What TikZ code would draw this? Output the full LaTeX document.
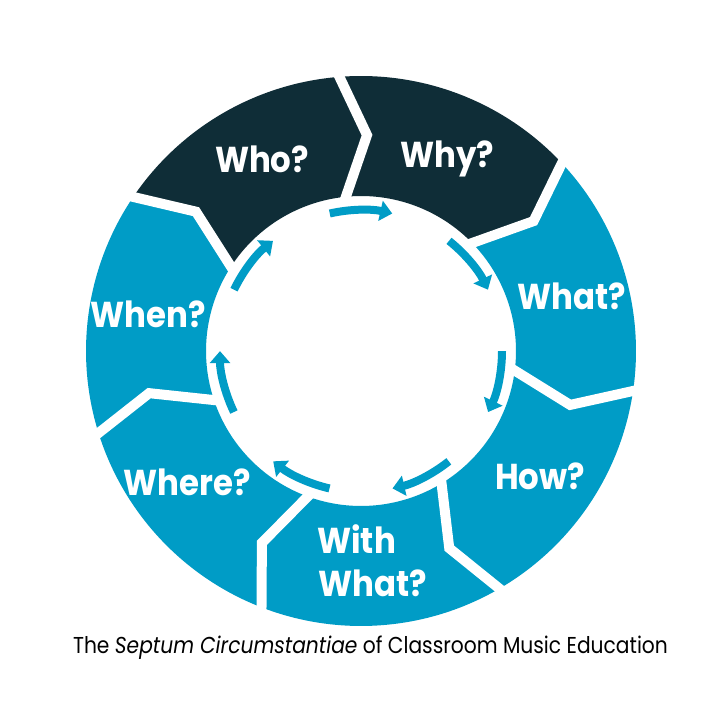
\documentclass[tikz,border=0pt]{standalone}
\usepackage{fontspec}
\setmainfont{Poppins}
\newfontfamily\labelfont[FakeStretch=0.9]{Poppins}
\newfontfamily\captionfont[FakeStretch=0.88]{Poppins}
\usetikzlibrary{arrows.meta,calc}
\definecolor{segblue}{RGB}{0,156,198}
\definecolor{segdark}{RGB}{15,45,55}
\tikzset{
  seglabel/.style={text=white, font=\labelfont\fontsize{36}{40}\selectfont\bfseries, inner sep=0pt, anchor=base},
  cyclearrow/.style={segblue, line width=8, -{Triangle[width=20pt,length=12pt]}},
  gapline/.style={white, line width=10, line join=miter},
  captiontext/.style={text=black, font=\captionfont\fontsize{23}{27}\selectfont, inner sep=0pt, anchor=base}
}
\begin{document}
\begin{tikzpicture}[x=1pt,y=1pt]
\useasboundingbox (0,0) rectangle (720,720);
\fill[white] (0,0) rectangle (720,720);
\begin{scope}[shift={(361,369)}]
  % segments between consecutive dividers
  \foreach \j/\col in {0/segdark,1/segblue,2/segblue,3/segblue,4/segblue,5/segblue,6/segdark}{
    \pgfmathsetmacro\oa{94.5-51.4286*\j}
    \pgfmathsetmacro\ob{94.5-51.4286*(\j+1)}
    \pgfmathsetmacro\ka{88.4-51.4286*\j}
    \pgfmathsetmacro\kb{88.4-51.4286*(\j+1)}
    \pgfmathsetmacro\ia{95.6-51.4286*\j}
    \pgfmathsetmacro\ib{95.6-51.4286*(\j+1)}
    \fill[\col] (\oa:275) arc[start angle=\oa, end angle=\ob, radius=275]
      -- (\kb:216) -- (\ib:155) arc[start angle=\ib, end angle=\ia, radius=155]
      -- (\ka:216) -- cycle;
  }
  % white gaps
  \foreach \j in {0,...,6}{
    \pgfmathsetmacro\oa{94.5-51.4286*\j}
    \pgfmathsetmacro\ka{88.4-51.4286*\j}
    \pgfmathsetmacro\ia{95.6-51.4286*\j}
    \coordinate (k\j) at (\ka:216);
    \coordinate (o\j) at (\oa:275);
    \coordinate (i\j) at (\ia:155);
    \draw[gapline] ($(k\j)!1.3!(o\j)$) -- (k\j) -- ($(k\j)!1.3!(i\j)$);
  }
  % cycle arrows
  \foreach \j in {0,...,6}{
    \pgfmathsetmacro\sa{102.8-51.4286*\j}
    \pgfmathsetmacro\ea{77.2-51.4286*\j}
    \draw[cyclearrow] (\sa:141) arc[start angle=\sa, end angle=\ea, radius=141];
  }
\end{scope}
\node[seglabel] (who) at (262,547) {Who?};
\node[seglabel] (why) at (447,552) {Why?};
\node[seglabel] (what) at (572,410) {What?};
\node[seglabel] (how) at (540,230) {How?};
\node[seglabel, anchor=base west] (with) at (317,166) {With};
\node[seglabel, anchor=base west] (withwhat) at (318,123) {What?};
\node[seglabel] (where) at (187,224) {Where?};
\node[seglabel] (when) at (148,392) {When?};
\node[captiontext] (caption) at (370.5,66) {The \textit{Septum Circumstantiae} of Classroom Music Education};
\end{tikzpicture}
\end{document}
